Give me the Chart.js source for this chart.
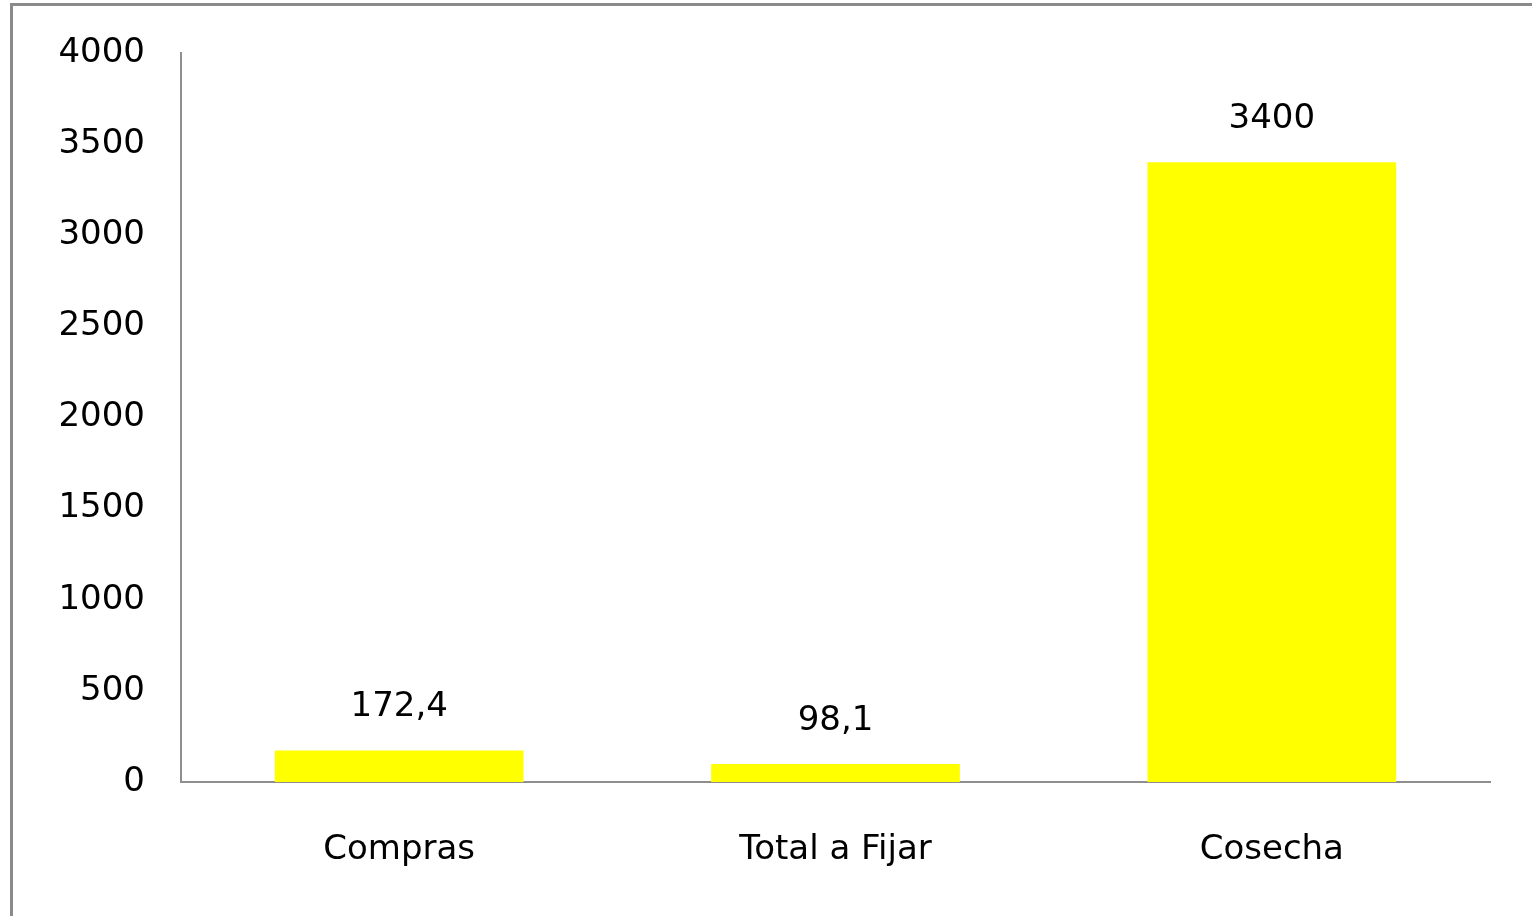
<!DOCTYPE html>
<html>
<head>
<meta charset="utf-8">
<script src="https://cdn.jsdelivr.net/npm/chart.js@4/dist/chart.umd.min.js"></script>
<style>
    html, body { margin: 0; padding: 0; background: #fff; overflow: hidden; }
    .wrap { position: relative; width: 1532px; height: 916px; }
    .frame {
        position: absolute;
        left: 10px; top: 3px;
        width: 1540px; height: 940px;
        border: 3px solid #8a8a8a;
        pointer-events: none;
    }
    canvas { position: absolute; left: 0; top: 0; }
</style>
</head>
<body>
<div class="wrap">
    <canvas id="chart" width="1532" height="916"></canvas>
    <div class="frame"></div>
</div>
<script>
const categories = ['Compras', 'Total a Fijar', 'Cosecha'];
const values = [172.4, 98.1, 3400];
const yTicks = [0, 500, 1000, 1500, 2000, 2500, 3000, 3500, 4000];

const FONT = 'DejaVu Sans';

// values written with a decimal comma, like the original
const fmt = v => String(v).replace('.', ',');

// simple value labels drawn above each bar
const valueLabels = {
    id: 'valueLabels',
    afterDatasetsDraw(chart) {
        const ctx = chart.ctx;
        const meta = chart.getDatasetMeta(0);
        ctx.save();
        ctx.font = '34px "' + FONT + '"';
        ctx.fillStyle = '#000';
        ctx.textAlign = 'center';
        ctx.textBaseline = 'middle';
        meta.data.forEach((bar, i) => {
            ctx.fillText(fmt(values[i]), bar.x, bar.y - 43);
        });
        ctx.restore();
    }
};

new Chart(document.getElementById('chart'), {
    type: 'bar',
    data: {
        labels: categories,
        datasets: [{
            data: values,
            backgroundColor: '#ffff00',
            borderWidth: 0,
            categoryPercentage: 1,
            barPercentage: 0.57
        }]
    },
    options: {
        responsive: false,
        animation: false,
        layout: { padding: { top: 53, right: 42, bottom: 0, left: 0 } },
        plugins: {
            legend: { display: false },
            tooltip: { enabled: false }
        },
        scales: {
            x: {
                grid: { display: false, drawTicks: false },
                border: { display: true, color: '#8e8e8e', width: 2 },
                ticks: {
                    color: '#000',
                    font: { family: FONT, size: 34 },
                    padding: 48,
                    maxRotation: 0
                },
                afterFit: s => { s.height = 134; }
            },
            y: {
                min: 0,
                max: 4000,
                afterBuildTicks: s => { s.ticks = yTicks.map(v => ({ value: v })); },
                grid: { display: false, drawTicks: false },
                border: { display: true, color: '#8e8e8e', width: 2 },
                ticks: {
                    color: '#000',
                    font: { family: FONT, size: 34 },
                    padding: 36,
                    callback: v => String(v)
                },
                afterFit: s => {
                    s.width = 181;
                    s.paddingTop = 0;
                    s.paddingBottom = 0;
                }
            }
        }
    },
    plugins: [valueLabels]
});
</script>
</body>
</html>
